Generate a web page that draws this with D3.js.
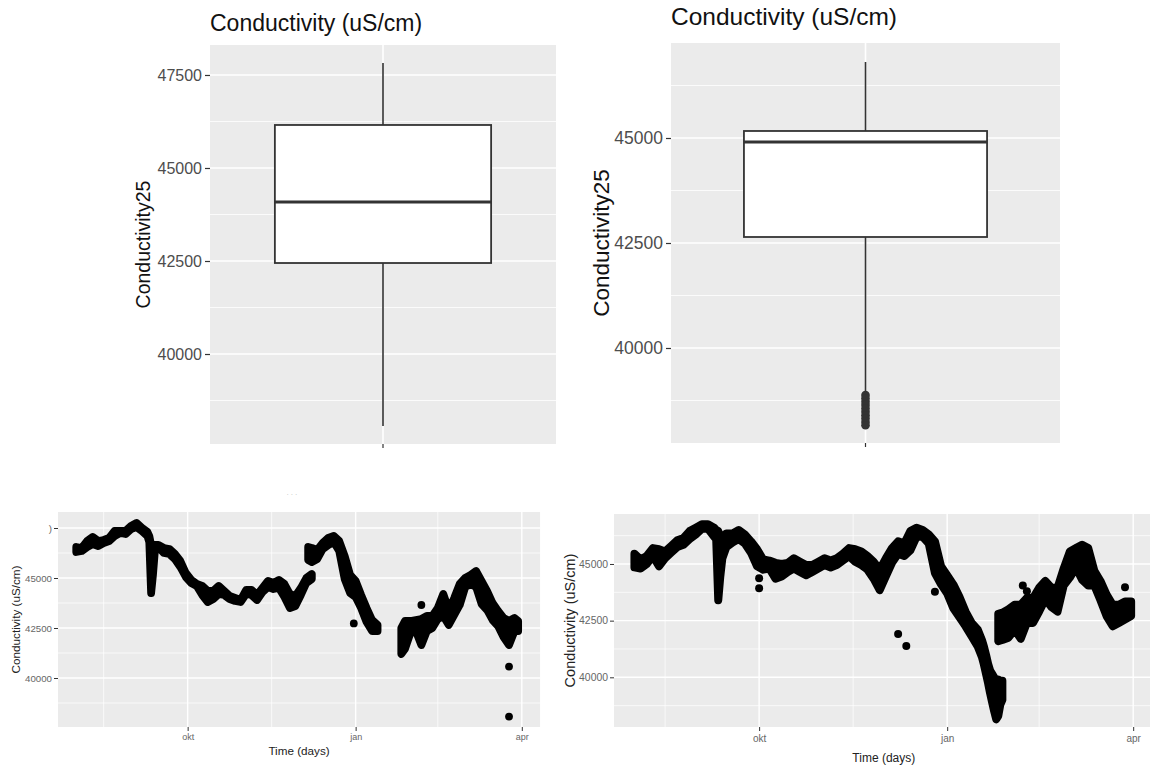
<!DOCTYPE html>
<html>
<head>
<meta charset="utf-8">
<script src="https://cdn.jsdelivr.net/npm/d3@7/dist/d3.min.js"></script>
<style>
  body { margin: 0; background: #fff; }
  svg { display: block; font-family: "Liberation Sans", Arial, sans-serif; }
</style>
</head>
<body>
<svg width="1150" height="771"></svg>
<script>
// ---- data ----
var boxTitle = "Conductivity (uS/cm)";
var boxYLabel = "Conductivity25";
// [lower whisker, q1, median, q3, upper whisker]
var leftBoxStats = [38065, 42446, 44086, 46156, 47823];
var rightBoxStats = [38930, 42643, 44905, 45167, 46810];
var rightBoxOutliers = [38880, 38800, 38720, 38640, 38560, 38480, 38400, 38320, 38240, 38160];
var boxMajorTicks = [40000, 42500, 45000, 47500];
var boxMinorTicks = [38750, 41250, 43750, 46250];

var seriesStart = "2019-08-01";
var monthTicks = ["2019-10-01", "2020-01-01", "2020-04-01"];
var monthLabels = ["okt", "jan", "apr"];
var monthMinor = ["2019-08-16", "2019-11-16", "2020-02-15"];
var scatterXLabel = "Time (days)";
var scatterYLabel = "Conductivity (uS/cm)";
var scatterMajorTicks = [40000, 42500, 45000, 47500];
var scatterMinorTicks = [38750, 41250, 43750, 46250];
var leftTickLabels = ["40000", "42500", "45000", ")"];
var rightTickLabels = ["40000", "42500", "45000", ""];

// dense point clouds, read as [day since seriesStart, lowest point, highest point]
var leftSeriesA = [
  [0, 46300, 46550], [3, 46350, 46500], [6, 46550, 46850], [9, 46700, 47050],
  [12, 46600, 46850], [15, 46750, 46900], [18, 46850, 47000], [21, 47100, 47350],
  [24, 47250, 47350], [27, 47200, 47350], [30, 47450, 47600], [33, 47550, 47750],
  [36, 47350, 47500], [39, 47100, 47300], [40, 46800, 47100], [41, 44250, 46650],
  [42, 45150, 46300], [43, 46300, 46650], [45, 46550, 46650], [48, 46250, 46500],
  [51, 46200, 46450], [54, 45950, 46200], [57, 45550, 45850], [60, 45050, 45250],
  [63, 44750, 44900], [66, 44600, 44700], [69, 44150, 44600], [72, 43800, 44350],
  [75, 43950, 44350], [78, 44200, 44600], [81, 44150, 44350], [84, 43950, 44100],
  [87, 43850, 44000], [90, 43800, 43900], [93, 44200, 44400], [96, 44150, 44400],
  [99, 43900, 44150], [102, 44300, 44500], [105, 44550, 44850], [108, 44450, 44750],
  [111, 44500, 44900], [114, 44050, 44700], [117, 43500, 44200], [120, 43600, 44100],
  [123, 44150, 44500], [126, 44750, 45000], [129, 44950, 45200]
];
var leftSeriesB = [
  [127, 45900, 46550], [129, 45800, 46500], [132, 45950, 46400], [135, 46450, 46750],
  [138, 46650, 47000], [141, 46800, 47100], [144, 46350, 46850], [147, 44950, 46100],
  [150, 44250, 45150], [153, 44050, 44850], [156, 43500, 44150], [159, 42800, 43500],
  [162, 42350, 42900], [165, 42350, 42650]
];
var leftSeriesC = [
  [178, 41200, 42500], [180, 41450, 42850], [183, 42250, 42850], [186, 42350, 42900],
  [189, 41650, 42950], [192, 42350, 43100], [195, 42500, 43100], [198, 42950, 43500],
  [201, 43100, 44200], [204, 42650, 43400], [207, 43150, 44000], [210, 43650, 44700],
  [213, 44550, 45000], [216, 44700, 45150], [219, 44550, 45350], [222, 43700, 44850],
  [225, 43400, 44350], [228, 42900, 43750], [231, 42600, 43350], [234, 42050, 43000],
  [237, 41650, 42850], [240, 42350, 43000], [242, 42350, 42850]
];
var leftOutliers = [[152, 42730], [189, 43650], [237, 40570], [237, 38070]];

var rightSeriesA = [
  [0, 44850, 45450], [3, 44800, 45200], [6, 45000, 45350], [9, 45350, 45700],
  [12, 44900, 45650], [15, 45250, 45550], [18, 45500, 45800], [21, 45750, 46050],
  [24, 45850, 46150], [27, 46100, 46450], [30, 46300, 46600], [33, 46550, 46750],
  [36, 46550, 46750], [39, 46200, 46600], [40, 46100, 46500], [41, 43400, 46450],
  [42, 44450, 46200], [43, 45250, 46200], [45, 45750, 46350], [48, 45950, 46350],
  [51, 46100, 46500], [54, 45900, 46300], [57, 45500, 46000], [60, 44900, 45650],
  [63, 44750, 45200], [66, 44800, 45150], [69, 44350, 45050], [72, 44450, 45000],
  [75, 44650, 45050], [78, 44800, 45250], [81, 44650, 45100], [84, 44500, 44950],
  [87, 44650, 44950], [90, 44800, 45100], [93, 44950, 45250], [96, 44850, 45150],
  [99, 44950, 45250], [102, 45150, 45450], [105, 45350, 45700], [108, 45100, 45650],
  [111, 44950, 45550], [114, 44750, 45350], [117, 44350, 45100], [120, 43850, 44750],
  [123, 44450, 45250], [126, 45050, 45700], [129, 45450, 46000], [132, 45350, 45900],
  [135, 45600, 46450], [138, 46200, 46600], [141, 46200, 46500], [144, 45900, 46300],
  [147, 44600, 46000], [150, 44100, 44900], [153, 43700, 44500], [156, 43050, 44100],
  [159, 42650, 43550], [162, 42250, 42900], [165, 41800, 42400], [168, 41350, 42100],
  [170, 40900, 41650], [171, 40550, 41350], [172, 40150, 41000], [173, 39750, 40600],
  [174, 39300, 40300], [175, 38900, 40150], [176, 38500, 40000], [177, 38150, 39850],
  [178, 38300, 39900], [179, 38800, 39850], [180, 39000, 39850]
];
var rightSeriesB = [
  [178, 41600, 42800], [180, 41650, 42850], [183, 41750, 43000], [186, 42100, 43200],
  [189, 41700, 43200], [192, 42400, 43500], [195, 42400, 43500], [198, 42900, 43950],
  [201, 43450, 44250], [204, 43100, 43950], [207, 42900, 43950], [210, 44050, 44800],
  [213, 44400, 45550], [216, 44850, 45700], [219, 44300, 45850], [222, 44050, 45700],
  [225, 44050, 44700], [228, 43400, 44250], [231, 42700, 43650], [234, 42250, 43200],
  [237, 42400, 43200], [240, 42550, 43350], [243, 42700, 43350]
];
var rightOutliers = [[61, 44370], [61, 43930], [129, 41910], [133, 41380], [147, 43780],
  [190, 44050], [192, 43800], [240, 43970]];

// ---- drawing ----
var svg = d3.select("svg");
svg.append("rect").attr("width", 1150).attr("height", 771).attr("fill", "#fff");

var parse = d3.utcParse("%Y-%m-%d");

function boxPanel(opt) {
  var g = svg.append("g");
  var x = d3.scaleLinear().domain([0.4, 1.6]).range([opt.x0, opt.x1]);
  var y = d3.scaleLinear().domain(opt.yDomain).range([opt.y1, opt.y0]);

  g.append("rect").attr("x", opt.x0).attr("y", opt.y0)
    .attr("width", opt.x1 - opt.x0).attr("height", opt.y1 - opt.y0).attr("fill", "#ebebeb");
  var vis = boxMajorTicks.filter(function(d){ return d > opt.yDomain[0] && d < opt.yDomain[1]; });
  g.selectAll(".mn").data(boxMinorTicks).enter().append("line")
    .attr("x1", opt.x0).attr("x2", opt.x1)
    .attr("y1", function(d){ return y(d); }).attr("y2", function(d){ return y(d); })
    .attr("stroke", "#fff").attr("stroke-width", 0.8);
  g.selectAll(".mj").data(vis).enter().append("line")
    .attr("x1", opt.x0).attr("x2", opt.x1)
    .attr("y1", function(d){ return y(d); }).attr("y2", function(d){ return y(d); })
    .attr("stroke", "#fff").attr("stroke-width", 1.6);
  g.append("line").attr("x1", x(1)).attr("x2", x(1)).attr("y1", opt.y0).attr("y2", opt.y1)
    .attr("stroke", "#fff").attr("stroke-width", 1.6);

  var s = opt.stats;
  g.append("line").attr("x1", x(1)).attr("x2", x(1)).attr("y1", y(s[0])).attr("y2", y(s[1]))
    .attr("stroke", "#333").attr("stroke-width", 1.6);
  g.append("line").attr("x1", x(1)).attr("x2", x(1)).attr("y1", y(s[3])).attr("y2", y(s[4]))
    .attr("stroke", "#333").attr("stroke-width", 1.6);
  g.append("rect").attr("x", x(0.625)).attr("width", x(1.375) - x(0.625))
    .attr("y", y(s[3])).attr("height", y(s[1]) - y(s[3]))
    .attr("fill", "#fff").attr("stroke", "#333").attr("stroke-width", 1.8);
  g.append("line").attr("x1", x(0.625)).attr("x2", x(1.375)).attr("y1", y(s[2])).attr("y2", y(s[2]))
    .attr("stroke", "#333").attr("stroke-width", 3.2);
  g.selectAll(".out").data(opt.outliers).enter().append("circle")
    .attr("cx", x(1)).attr("cy", function(d){ return y(d); }).attr("r", 4.3).attr("fill", "#333");

  var ax = g.append("g").attr("transform", "translate(" + opt.x0 + ",0)")
    .call(d3.axisLeft(y).tickValues(vis).tickSize(5).tickPadding(3).tickFormat(d3.format("d")));
  ax.select(".domain").remove();
  ax.selectAll("line").attr("stroke", "#333").attr("stroke-width", 1.2);
  ax.selectAll("text").attr("fill", "#4d4d4d").style("font-size", opt.tickFont + "px")
    .style("font-family", "Liberation Sans, Arial, sans-serif");
  g.append("line").attr("x1", x(1)).attr("x2", x(1)).attr("y1", opt.y1).attr("y2", opt.y1 + 4)
    .attr("stroke", "#333").attr("stroke-width", 1.2);

  g.append("text").attr("x", opt.x0).attr("y", opt.titleY).text(boxTitle)
    .attr("fill", "#111").style("font-size", opt.titleFont + "px");
  g.append("text").attr("transform", "translate(" + opt.labX + "," + ((opt.y0 + opt.y1) / 2) + ") rotate(-90)")
    .attr("text-anchor", "middle").text(boxYLabel)
    .attr("fill", "#111").style("font-size", opt.labFont + "px");
}

function scatterPanel(opt) {
  var g = svg.append("g");
  var start = parse(seriesStart);
  var x = d3.scaleUtc().domain(opt.xDomain.map(parse)).range([opt.x0, opt.x0 + opt.pxPerDay * 264]);
  var y = d3.scaleLinear().domain(opt.yDomain).range([opt.y1, opt.y0]);
  var xEnd = x.range()[1];
  var dayX = function(d){ return x(d3.utcDay.offset(start, d)); };

  g.append("rect").attr("x", opt.x0).attr("y", opt.y0)
    .attr("width", xEnd - opt.x0).attr("height", opt.y1 - opt.y0).attr("fill", "#ebebeb");
  var vis = scatterMajorTicks.filter(function(d){ return d > opt.yDomain[0] && d < opt.yDomain[1]; });
  g.selectAll(".mn").data(scatterMinorTicks).enter().append("line")
    .attr("x1", opt.x0).attr("x2", xEnd)
    .attr("y1", function(d){ return y(d); }).attr("y2", function(d){ return y(d); })
    .attr("stroke", "#fff").attr("stroke-width", 0.7);
  g.selectAll(".vmn").data(monthMinor).enter().append("line")
    .attr("x1", function(d){ return x(parse(d)); }).attr("x2", function(d){ return x(parse(d)); })
    .attr("y1", opt.y0).attr("y2", opt.y1).attr("stroke", "#fff").attr("stroke-width", 0.7);
  g.selectAll(".mj").data(vis).enter().append("line")
    .attr("x1", opt.x0).attr("x2", xEnd)
    .attr("y1", function(d){ return y(d); }).attr("y2", function(d){ return y(d); })
    .attr("stroke", "#fff").attr("stroke-width", 1.4);
  g.selectAll(".vmj").data(monthTicks).enter().append("line")
    .attr("x1", function(d){ return x(parse(d)); }).attr("x2", function(d){ return x(parse(d)); })
    .attr("y1", opt.y0).attr("y2", opt.y1).attr("stroke", "#fff").attr("stroke-width", 1.4);

  // each cloud segment: filled envelope, outlined with a stroke as wide as one point
  var area = d3.area()
    .x(function(d){ return dayX(d[0]); })
    .y0(function(d){ return y(d[1]); })
    .y1(function(d){ return y(d[2]); });
  g.selectAll(".cloud").data(opt.segments).enter().append("path")
    .attr("d", area).attr("fill", "#000").attr("stroke", "#000")
    .attr("stroke-width", opt.r * 2).attr("stroke-linejoin", "round").attr("stroke-linecap", "round");
  g.selectAll(".pt").data(opt.outliers).enter().append("circle")
    .attr("cx", function(d){ return dayX(d[0]); })
    .attr("cy", function(d){ return y(d[1]); })
    .attr("r", opt.r).attr("fill", "#000");

  var ay = g.append("g").attr("transform", "translate(" + opt.x0 + ",0)")
    .call(d3.axisLeft(y).tickValues(scatterMajorTicks).tickSize(4).tickPadding(2)
      .tickFormat(function(d, i){ return opt.tickLabels[i]; }));
  ay.select(".domain").remove();
  ay.selectAll(".tick").filter(function(d){ return d > opt.yDomain[1]; }).remove();
  ay.selectAll("line").attr("stroke", "#333");
  ay.selectAll("text").attr("fill", "#666").style("font-size", opt.tickFont + "px")
    .style("font-family", "Liberation Sans, Arial, sans-serif");

  var axx = g.append("g").attr("transform", "translate(0," + opt.y1 + ")")
    .call(d3.axisBottom(x).tickValues(monthTicks.map(parse)).tickSize(4).tickPadding(opt.xPad)
      .tickFormat(function(d, i){ return monthLabels[i]; }));
  axx.select(".domain").remove();
  axx.selectAll("line").attr("stroke", "#333");
  axx.selectAll("text").attr("fill", "#666").style("font-size", opt.xTickFont + "px")
    .style("font-family", "Liberation Sans, Arial, sans-serif");

  g.append("text").attr("x", (opt.x0 + xEnd) / 2).attr("y", opt.xLabY)
    .attr("text-anchor", "middle").text(scatterXLabel).attr("fill", "#222")
    .style("font-size", opt.labFont + "px");
  g.append("text").attr("transform", "translate(" + opt.yLabX + "," + ((opt.y0 + opt.y1) / 2) + ") rotate(-90)")
    .attr("text-anchor", "middle").text(scatterYLabel).attr("fill", "#222")
    .style("font-size", opt.yLabFont + "px");
}

boxPanel({ x0: 210, x1: 556, y0: 45, y1: 444, yDomain: [37581, 48306], stats: leftBoxStats,
  outliers: [], tickFont: 16, titleY: 31, titleFont: 23, labX: 150, labFont: 19.5 });
boxPanel({ x0: 671, x1: 1060, y0: 43, y1: 443, yDomain: [37738, 47262], stats: rightBoxStats,
  outliers: rightBoxOutliers, tickFont: 17.5, titleY: 25, titleFont: 24.5, labX: 609, labFont: 22.5 });

scatterPanel({ x0: 58, pxPerDay: 1.826, y0: 512, y1: 727, yDomain: [37550, 48300],
  xDomain: ["2019-07-22", "2020-04-11"], segments: [leftSeriesA, leftSeriesB, leftSeriesC],
  outliers: leftOutliers, tickLabels: leftTickLabels, r: 3.9, tickFont: 9.7, xTickFont: 9, xPad: 3,
  xLabY: 755, labFont: 11.7, yLabX: 20, yLabFont: 11.7 });
scatterPanel({ x0: 614, pxPerDay: 2.044, y0: 514, y1: 727, yDomain: [37808, 47205],
  xDomain: ["2019-07-22", "2020-04-11"], segments: [rightSeriesA, rightSeriesB],
  outliers: rightOutliers, tickLabels: rightTickLabels, r: 4, tickFont: 10.4, xTickFont: 10, xPad: 4,
  xLabY: 762, labFont: 12, yLabX: 575, yLabFont: 14.5 });

// faint remnant marks of a cropped caption
svg.append("text").attr("x", 292).attr("y", 497).attr("text-anchor", "middle")
  .attr("fill", "#bbb").style("font-size", "7px").text("· · ·");
</script>
</body>
</html>
